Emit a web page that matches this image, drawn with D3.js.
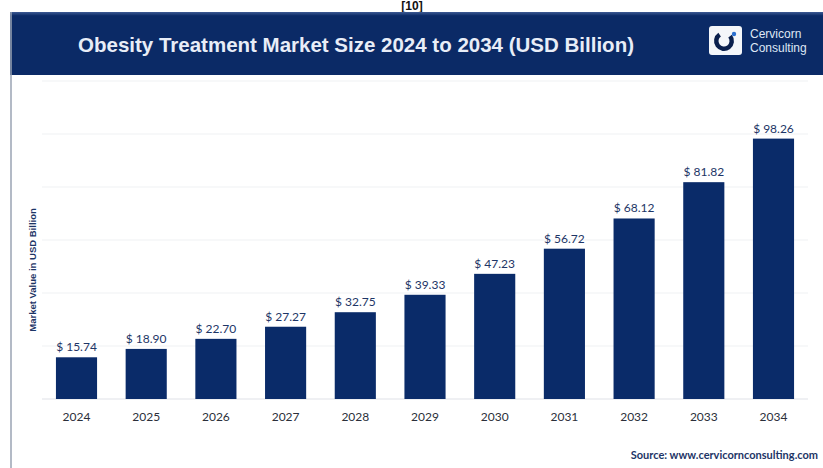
<!DOCTYPE html>
<html>
<head>
<meta charset="utf-8">
<script src="https://cdn.jsdelivr.net/npm/d3@7"></script>
<style>
  html, body { margin: 0; padding: 0; background: #ffffff; }
  svg { display: block; }
</style>
</head>
<body>
<svg id="chart" width="823" height="468"></svg>
<script>
// Obesity treatment market size, USD billion
const years = ["2024", "2025", "2026", "2027", "2028", "2029", "2030", "2031", "2032", "2033", "2034"];
const values = [15.74, 18.90, 22.70, 27.27, 32.75, 39.33, 47.23, 56.72, 68.12, 81.82, 98.26];
const gridTicks = [0, 20, 40, 60, 80, 100, 120];

const W = 823, H = 468;
const navy = "#0b2a66";
const svg = d3.select("#chart");

// reference marker above the header
svg.append("text")
  .attr("x", 412).attr("y", 10)
  .attr("text-anchor", "middle")
  .attr("font-family", "Liberation Sans, Arial, sans-serif")
  .attr("font-weight", "bold").attr("font-size", 12)
  .attr("fill", "#111")
  .text("[10]");

// header band
const grad = svg.append("defs").append("linearGradient")
  .attr("id", "hdr").attr("x1", 0).attr("y1", 0).attr("x2", 0).attr("y2", 1);
grad.append("stop").attr("offset", "0%").attr("stop-color", "#3d5a93");
grad.append("stop").attr("offset", "6%").attr("stop-color", navy);
grad.append("stop").attr("offset", "100%").attr("stop-color", navy);

svg.append("rect")
  .attr("x", 10).attr("y", 12).attr("width", W - 10).attr("height", 63)
  .attr("fill", "url(#hdr)");

// left frame line
svg.append("line")
  .attr("x1", 11).attr("x2", 11).attr("y1", 12).attr("y2", H)
  .attr("stroke", "#9aa3b3").attr("stroke-width", 1.5);

svg.append("text")
  .attr("x", 356).attr("y", 52)
  .attr("text-anchor", "middle")
  .attr("font-family", "Liberation Sans, Arial, sans-serif")
  .attr("font-weight", "bold").attr("font-size", 20.5)
  .attr("fill", "#e8edf7")
  .text("Obesity Treatment Market Size 2024 to 2034 (USD Billion)");

// logo mark
const logo = svg.append("g");
logo.append("rect")
  .attr("x", 709).attr("y", 26).attr("width", 33).attr("height", 29).attr("rx", 3)
  .attr("fill", "#f4f6fa");
logo.append("path")
  .attr("d", d3.arc()({ innerRadius: 5.5, outerRadius: 10, startAngle: 0.9, endAngle: 2 * Math.PI - 0.6 }))
  .attr("transform", "translate(724,41)")
  .attr("fill", "#0a1f4d");
logo.append("circle").attr("cx", 734).attr("cy", 34).attr("r", 2.2).attr("fill", "#2a6fd0");
logo.append("text")
  .attr("x", 750).attr("y", 38)
  .attr("font-family", "Liberation Sans, Arial, sans-serif")
  .attr("font-size", 12).attr("fill", "#dfe7f5")
  .text("Cervicorn");
logo.append("text")
  .attr("x", 750).attr("y", 52)
  .attr("font-family", "Liberation Sans, Arial, sans-serif")
  .attr("font-size", 12).attr("fill", "#dfe7f5")
  .text("Consulting");

// scales
const x = d3.scaleBand().domain(years).range([42, 808]).paddingInner(0.41).paddingOuter(0.2);
const y = d3.scaleLinear().domain([0, 120]).range([399, 81]);

// grid lines
svg.append("g")
  .selectAll("line")
  .data(gridTicks)
  .join("line")
  .attr("x1", 42).attr("x2", 808)
  .attr("y1", d => y(d)).attr("y2", d => y(d))
  .attr("stroke", d => d === 0 ? "#dfe2e8" : "#f0f1f4")
  .attr("stroke-width", 1.2);

// bars
svg.append("g")
  .selectAll("rect")
  .data(values)
  .join("rect")
  .attr("x", (d, i) => x(years[i]))
  .attr("width", x.bandwidth())
  .attr("y", d => y(d))
  .attr("height", d => y(0) - y(d))
  .attr("fill", "#0a2b69");

// value labels
svg.append("g")
  .selectAll("text")
  .data(values)
  .join("text")
  .attr("x", (d, i) => x(years[i]) + x.bandwidth() / 2)
  .attr("y", d => y(d) - 6)
  .attr("text-anchor", "middle")
  .attr("font-family", "Lato, sans-serif")
  .attr("font-size", 12)
  .attr("fill", "#1d3566")
  .text(d => "$ " + d.toFixed(2));

// x axis labels
const xAxis = d3.axisBottom(x).tickSize(0).tickPadding(13);
const gx = svg.append("g").attr("transform", `translate(0,${y(0)})`).call(xAxis);
gx.select(".domain").remove();
gx.selectAll("text")
  .attr("font-family", "Lato, sans-serif")
  .attr("font-size", 12)
  .attr("fill", "#2b2f3a");

// y axis title
svg.append("text")
  .attr("transform", "translate(36,270) rotate(-90)")
  .attr("text-anchor", "middle")
  .attr("font-family", "Liberation Sans, Arial, sans-serif")
  .attr("font-weight", "bold").attr("font-size", 9.5)
  .attr("fill", "#1d3566")
  .text("Market Value in USD Billion");

// source note
svg.append("text")
  .attr("x", 818).attr("y", 459)
  .attr("text-anchor", "end")
  .attr("font-family", "Lato, sans-serif")
  .attr("font-weight", "bold").attr("font-size", 11)
  .attr("fill", "#1d3566")
  .text("Source: www.cervicornconsulting.com");
</script>
</body>
</html>
